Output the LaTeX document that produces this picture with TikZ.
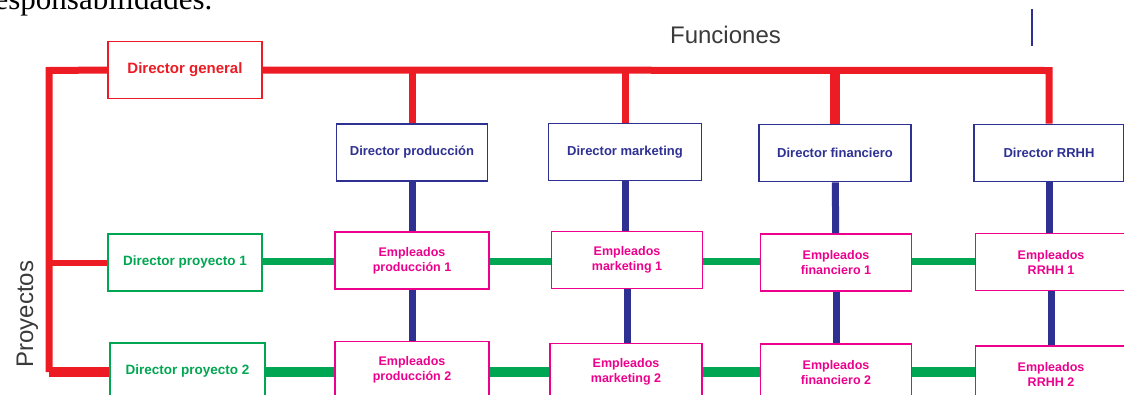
\documentclass[tikz,border=0pt]{standalone}
\usepackage{fontspec}
\setmainfont{Liberation Sans}
\newfontfamily\serifa{Liberation Serif}
\definecolor{rojo}{HTML}{ED1C24}
\definecolor{azul}{HTML}{2E3192}
\definecolor{verde}{HTML}{00A651}
\definecolor{rosa}{HTML}{EC008C}
\definecolor{gris}{HTML}{3A3A3A}

\begin{document}
\begin{tikzpicture}[x=1pt,y=-1pt,line join=miter,
  caja/.style={draw,line width=1.8pt,fill=white,inner sep=0pt,minimum width=152pt,minimum height=57pt,align=center,font=\bfseries\fontsize{13}{15}\selectfont},
  caja roja/.style={caja,draw=rojo,text=rojo,font=\bfseries\fontsize{15}{17}\selectfont},
  caja azul/.style={caja,draw=azul,text=azul},
  caja verde/.style={caja,draw=verde,text=verde,font=\bfseries\fontsize{13.5}{15}\selectfont},
  caja rosa/.style={caja,draw=rosa,text=rosa,font=\bfseries\fontsize{12.5}{15}\selectfont},
  linea roja/.style={draw=rojo,line width=7pt},
  linea azul/.style={draw=azul,line width=7pt},
  linea verde/.style={draw=verde,line width=7pt},
  rotulo/.style={text=gris,font=\fontsize{24}{26}\selectfont}]
\useasboundingbox (0,0) rectangle (1124,394);
%%
\node (texto_sup) at (216,9) [anchor=base east,font=\serifa\fontsize{31}{34}\selectfont] {responsabilidades.};
\node (funciones) at (725.5,43) [rotulo,anchor=base] {Funciones};
\node (proyectos) at (33,314) [rotulo,rotate=90,anchor=base] {Proyectos};
\draw [azul,line width=2pt] (1032,9) -- (1032,46);
%
\coordinate (esq_sup) at (49,70.5);
\coordinate (esq_inf) at (49,372);
\coordinate (fila_1) at (0,261.5);
\coordinate (fila_2) at (0,372);
\node (dir_general) at (185,70) [caja roja,minimum width=154pt] {Director general};
\node (dir_prod) at (412,152.5) [caja azul,minimum width=151pt] {Director producción};
\node (dir_mkt) at (625,152) [caja azul,minimum width=153pt] {Director marketing};
\node (dir_fin) at (835,153) [caja azul] {Director financiero};
\node (dir_rrhh) at (1049,153) [caja azul,minimum width=150pt] {Director RRHH};
\node (proy_1) at (185,262.5) [caja verde,minimum width=154pt] {Director proyecto 1};
\node (proy_2) at (187.5,371.5) [caja verde,minimum width=155pt] {Director proyecto 2};
\node (emp_prod_1) at (412,260.5) [caja rosa,minimum width=154pt] {Empleados\\producción 1};
\node (emp_prod_2) at (412,370) [caja rosa,minimum width=154pt] {Empleados\\producción 2};
\node (emp_mkt_1) at (627,260) [caja rosa,minimum width=151pt] {Empleados\\marketing 1};
\node (emp_mkt_2) at (626,372) [caja rosa] {Empleados\\marketing 2};
\node (emp_fin_1) at (836,262.5) [caja rosa,minimum width=151pt] {Empleados\\financiero 1};
\node (emp_fin_2) at (836,372.5) [caja rosa,minimum width=151pt] {Empleados\\financiero 2};
\node (emp_rrhh_1) at (1051,262) [caja rosa,minimum width=151pt] {Empleados\\RRHH 1};
\node (emp_rrhh_2) at (1051,374.5) [caja rosa,minimum width=151pt] {Empleados\\RRHH 2};
%
\draw [linea roja] (dir_general.east) -- (dir_rrhh.north |- esq_sup) -- (dir_rrhh.north);
\draw [linea roja] (dir_general.west) -- (esq_sup) -- (esq_inf);
\draw [linea roja,line width=10pt] (esq_inf) -- (proy_2.west |- esq_inf);
\draw [linea roja,line width=6pt] (esq_sup |- proy_1) -- (proy_1.west);
\draw [linea roja] (dir_prod.north |- esq_sup) -- (dir_prod.north);
\draw [linea roja] (dir_mkt.north |- esq_sup) -- (dir_mkt.north);
\draw [linea roja,line width=10pt] (dir_fin.north |- esq_sup) -- (dir_fin.north);
%
\draw [linea azul] (dir_prod) -- (emp_prod_1);
\draw [linea azul] (emp_prod_1) -- (emp_prod_2);
\draw [linea azul] (dir_mkt) -- (dir_mkt |- emp_mkt_1.north);
\draw [linea azul] (emp_mkt_1) -- (emp_mkt_1 |- emp_mkt_2.north);
\draw [linea azul] (dir_fin) -- (emp_fin_1);
\draw [linea azul] (emp_fin_1) -- (emp_fin_2);
\draw [linea azul] (dir_rrhh) -- (dir_rrhh |- emp_rrhh_1.north);
\draw [linea azul] (emp_rrhh_1) -- (emp_rrhh_1 |- emp_rrhh_2.north);
%
\draw [linea verde] (proy_1.east |- fila_1) -- (emp_prod_1.west |- fila_1);
\draw [linea verde] (emp_prod_1.east |- fila_1) -- (emp_mkt_1.west |- fila_1);
\draw [linea verde] (emp_mkt_1.east |- fila_1) -- (emp_fin_1.west |- fila_1);
\draw [linea verde] (emp_fin_1.east |- fila_1) -- (emp_rrhh_1.west |- fila_1);
\draw [linea verde,line width=10pt] (proy_2.east |- fila_2) -- (emp_prod_2.west |- fila_2);
\draw [linea verde,line width=10pt] (emp_prod_2.east |- fila_2) -- (emp_mkt_2.west |- fila_2);
\draw [linea verde,line width=10pt] (emp_mkt_2.east |- fila_2) -- (emp_fin_2.west |- fila_2);
\draw [linea verde,line width=10pt] (emp_fin_2.east |- fila_2) -- (emp_rrhh_2.west |- fila_2);
%
\end{tikzpicture}
\end{document}
